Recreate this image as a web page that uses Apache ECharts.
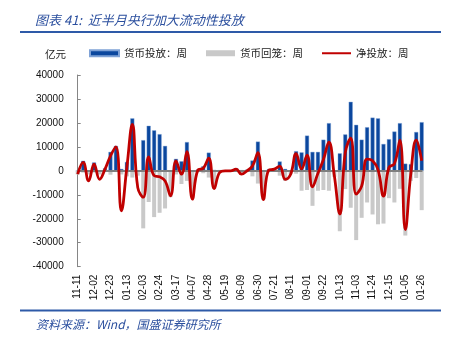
<!DOCTYPE html>
<html>
<head>
<meta charset="utf-8">
<script src="https://cdn.jsdelivr.net/npm/echarts@6/dist/echarts.min.js"></script>
<style>html,body{margin:0;padding:0;background:#fff}#c{width:454px;height:340px}</style>
</head>
<body>
<div id="c"></div>
<script>
var weeks = ['11-11','11-18','11-25','12-02','12-09','12-16','12-23','12-30','01-06','01-13','01-20','01-27',
  '02-03','02-10','02-17','02-24','03-03','03-10','03-17','03-24','03-31','04-07','04-14','04-21',
  '04-28','05-05','05-12','05-19','05-26','06-02','06-09','06-16','06-23','06-30','07-07','07-14',
  '07-21','07-28','08-04','08-11','08-18','08-25','09-01','09-08','09-15','09-22','09-29','10-06',
  '10-13','10-20','10-27','11-03','11-10','11-17','11-24','12-01','12-08','12-15','12-22','12-29',
  '01-05','01-12','01-19','01-26'];
var inject = [0,4200,0,3500,0,1100,7900,10400,800,3700,21900,0,
  12800,18800,16900,15300,10400,0,5000,4000,12000,0,500,1900,
  7600,400,300,200,300,1100,300,500,4300,12200,0,700,
  800,3900,800,0,8200,7700,14700,7900,7900,13000,19900,0,
  7300,15200,28800,19200,13000,18200,22200,21900,11200,13200,16400,19900,
  3000,2800,16200,20300];
var withdraw = [-1500,-700,-1500,-700,-1500,-400,-1600,-500,-1500,-2300,-2800,-2000,
  -24000,-13000,-19300,-17500,-15700,-11000,-1500,-5500,-4200,-11500,-500,-1000,
  -2800,-7500,-1000,-300,-300,-400,-1700,-500,-2300,-5300,-12000,-500,
  -300,-2000,-4200,-1400,-1200,-8300,-8000,-14600,-8300,-8000,-8300,-2500,
  -25200,-7600,-15400,-28900,-19600,-13200,-18200,-22300,-22000,-11400,-13200,-7500,
  -27000,-4200,-3000,-16400];
var net = [-1400,3500,-4200,2800,-3500,700,6200,10000,-16700,1400,19400,-7000,
  -11000,5800,-2000,-2500,-4200,-10400,4200,-1400,8000,-11800,300,1100,
  5300,-7400,-700,0,0,700,-1400,0,2000,7600,-12000,300,
  700,2000,-3500,-1400,7200,800,6600,-6700,-1000,4700,12000,-2000,
  -18000,7600,13600,-9700,-6400,4900,4200,500,-10500,1400,3000,12800,
  -24500,-1400,12800,4200];
var names = ['货币投放：周','货币回笼：周','净投放：周'];

var FF = '"Liberation Sans", Arial, "Noto Sans CJK SC", sans-serif';
var CJK = '"Noto Sans CJK SC", "Liberation Sans", sans-serif';
var chart = echarts.init(document.getElementById('c'), null, {renderer:'canvas'});
chart.setOption({
  animation: false,
  backgroundColor: '#fff',
  textStyle: {fontFamily: FF},
  title: [
    {text: '图表 41:  近半月央行加大流动性投放', left: 30, top: 9,
     textStyle: {fontFamily: CJK, fontSize: 13, fontStyle: 'italic', fontWeight: 'normal', color: '#2B4F9E'}},
    {text: '资料来源：Wind，国盛证券研究所', left: 31, top: 313,
     textStyle: {fontFamily: CJK, fontSize: 12, fontStyle: 'italic', fontWeight: 'normal', color: '#2B4F9E'}},
    {text: '亿元', left: 40, top: 44,
     textStyle: {fontFamily: CJK, fontSize: 10.5, fontWeight: 'normal', color: '#222'}}
  ],
  graphic: [
    {type: 'line', shape: {x1: 20, y1: 32, x2: 441, y2: 32}, style: {stroke: '#2E5AA8', lineWidth: 2}},
    {type: 'line', shape: {x1: 20, y1: 310.5, x2: 441, y2: 310.5}, style: {stroke: '#2E5AA8', lineWidth: 2}}
  ],
  legend: {
    data: [
      {name: names[0], icon: 'rect'},
      {name: names[1], icon: 'rect'},
      {name: names[2], icon: 'path://M0,0M0,6M0,2L29,2L29,4L0,4Z'}
    ],
    left: 84, top: 43, itemWidth: 29, itemHeight: 6, itemGap: 19,
    textStyle: {fontFamily: CJK, fontSize: 10.5, color: '#222'}
  },
  grid: {left: 77.7, right: 32.3, top: 75, height: 191.7, containLabel: false},
  xAxis: [
    {type: 'category', data: weeks, boundaryGap: false, position: 'bottom',
     axisLine: {show: false, onZero: false}, axisTick: {show: false}, splitLine: {show: false},
     axisLabel: {interval: 2, rotate: 90, fontSize: 10, color: '#111', margin: 8, fontFamily: FF}},
    {type: 'category', data: weeks, boundaryGap: false, z: 3,
     axisLine: {show: true, onZero: true, lineStyle: {color: '#7F7F7F', width: 2}},
     axisTick: {show: false}, axisLabel: {show: false}, splitLine: {show: false}}
  ],
  yAxis: {
    type: 'value', min: -40000, max: 40000, interval: 10000,
    axisLine: {show: true, lineStyle: {color: '#868686', width: 1}},
    axisTick: {show: true, inside: true, length: 3, lineStyle: {color: '#868686'}},
    splitLine: {show: false},
    axisLabel: {fontSize: 10, color: '#111', margin: 14, fontFamily: FF,
      formatter: function (v) { return String(v); }}
  },
  series: [
    {name: names[0], type: 'bar', data: inject, barWidth: 4, barGap: '-100%', xAxisIndex: 0,
     itemStyle: {color: '#0B479E', borderColor: '#7FA2D6', borderWidth: 0.4}},
    {name: names[1], type: 'bar', data: withdraw, barWidth: 4, barGap: '-100%', xAxisIndex: 0,
     itemStyle: {color: '#C9C9C9'}},
    {name: names[2], type: 'line', data: net, xAxisIndex: 0, smooth: 0.45, symbol: 'none', z: 5,
     lineStyle: {color: '#C00000', width: 2.8}, itemStyle: {color: '#C00000'}}
  ]
});
</script>
</body>
</html>
